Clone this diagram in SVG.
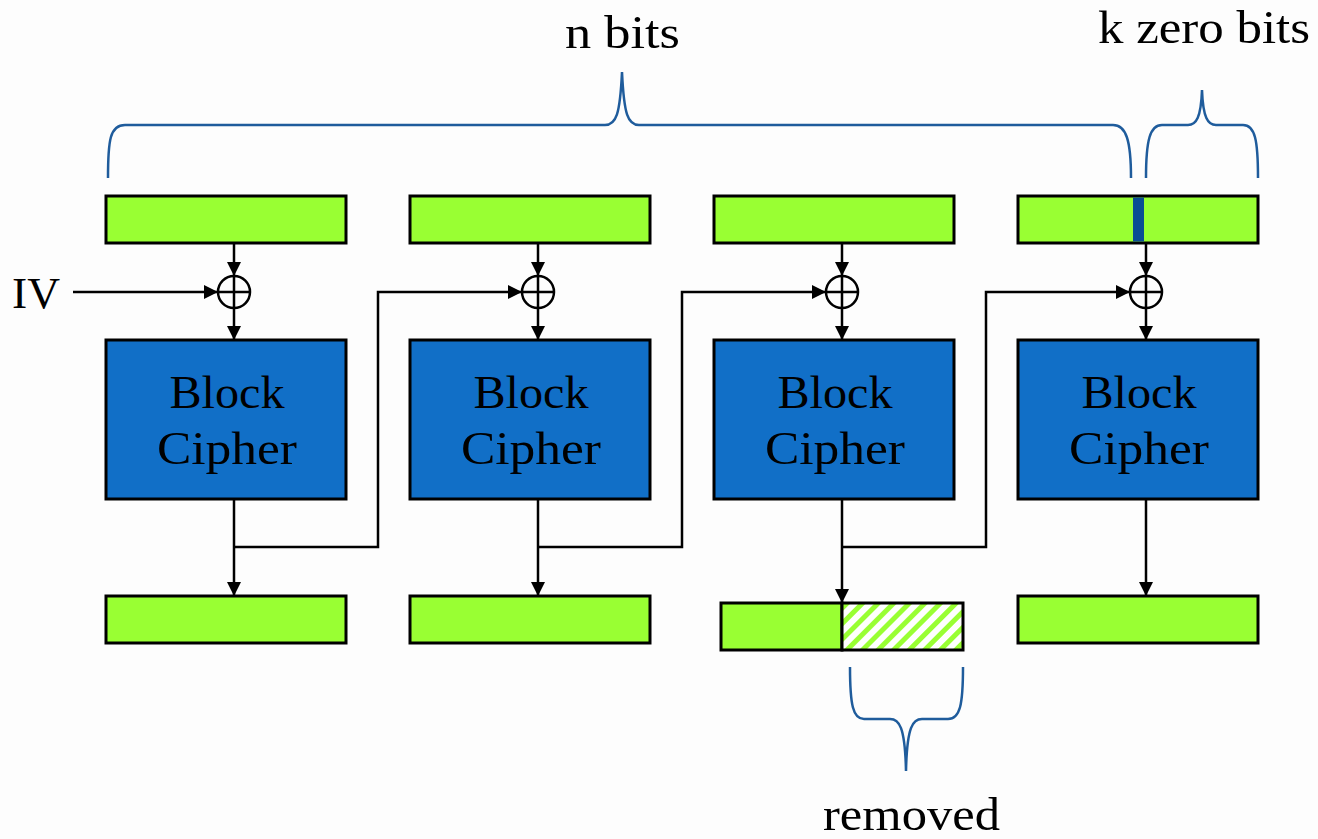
<svg xmlns="http://www.w3.org/2000/svg" width="1318" height="839" viewBox="0 0 1318 839">
<defs>
<style>
.g{fill:#99FF33;stroke:#000;stroke-width:3}
.c{fill:#116FC7;stroke:#000;stroke-width:3}
.t{font-family:"Liberation Serif",serif;fill:#000}
.bt{font-family:"Liberation Serif",serif;font-size:46px;fill:#000;text-anchor:middle}
.ln{fill:none;stroke:#000;stroke-width:2.5}
.br{fill:none;stroke:#1F5C9C;stroke-width:2.5}
.x{fill:none;stroke:#000;stroke-width:2.5}
</style>
<marker id="ah" viewBox="0 0 10 10" refX="10" refY="5" markerWidth="14" markerHeight="14" markerUnits="userSpaceOnUse" orient="auto">
<path d="M0,0 L10,5 L0,10 z" fill="#000"/>
</marker>
<pattern id="hatch" patternUnits="userSpaceOnUse" width="11" height="11" patternTransform="rotate(45)">
<rect width="11" height="11" fill="#fff"/>
<rect width="5" height="11" fill="#99FF33"/>
</pattern>
</defs>
<rect width="1318" height="839" fill="#FDFDFD"/>

<g id="braces">
<path class="br" d="M108,178 C108,140 110,125 125,125 L605,125 C616,125 620,115 622,72 C624,115 628,125 639,125 L1113,125 C1126,125 1131,140 1131,178"/>
<path class="br" d="M1146,178 C1146,140 1150,125 1162,125 L1188,125 C1196,125 1201,118 1202,90 C1203,118 1208,125 1216,125 L1243,125 C1255,125 1258,140 1258,178"/>
<path class="br" d="M850,667 C850,705 853,719 864,719 L890,719 C899,719 905,726 906,771 C907,726 913,719 922,719 L948,719 C960,719 963,705 963,667"/>
</g>

<g id="labels">
<text class="t" x="565" y="48" font-size="46" textLength="115" lengthAdjust="spacingAndGlyphs">n bits</text>
<text class="t" x="1098" y="43" font-size="46" textLength="212" lengthAdjust="spacingAndGlyphs">k zero bits</text>
<text class="t" x="823" y="830" font-size="46" textLength="177" lengthAdjust="spacingAndGlyphs">removed</text>
<text class="t" x="12" y="308" font-size="44" textLength="48" lengthAdjust="spacingAndGlyphs">IV</text>
</g>

<g id="connectors">
<line class="ln" x1="73" y1="292" x2="218" y2="292" marker-end="url(#ah)"/>
<line class="ln" x1="234" y1="243" x2="234" y2="276" marker-end="url(#ah)"/>
<line class="ln" x1="234" y1="308" x2="234" y2="340" marker-end="url(#ah)"/>
<line class="ln" x1="234" y1="499" x2="234" y2="596" marker-end="url(#ah)"/>
<polyline class="ln" points="234,547 378,547 378,292 522,292" marker-end="url(#ah)"/>

<line class="ln" x1="538" y1="243" x2="538" y2="276" marker-end="url(#ah)"/>
<line class="ln" x1="538" y1="308" x2="538" y2="340" marker-end="url(#ah)"/>
<line class="ln" x1="538" y1="499" x2="538" y2="596" marker-end="url(#ah)"/>
<polyline class="ln" points="538,547 682,547 682,292 826,292" marker-end="url(#ah)"/>

<line class="ln" x1="842" y1="243" x2="842" y2="276" marker-end="url(#ah)"/>
<line class="ln" x1="842" y1="308" x2="842" y2="340" marker-end="url(#ah)"/>
<line class="ln" x1="842" y1="499" x2="842" y2="603" marker-end="url(#ah)"/>
<polyline class="ln" points="842,547 986,547 986,292 1130,292" marker-end="url(#ah)"/>

<line class="ln" x1="1146" y1="243" x2="1146" y2="276" marker-end="url(#ah)"/>
<line class="ln" x1="1146" y1="308" x2="1146" y2="340" marker-end="url(#ah)"/>
<line class="ln" x1="1146" y1="499" x2="1146" y2="596" marker-end="url(#ah)"/>
</g>

<g id="xor1"><circle class="x" cx="234" cy="292" r="16"/><path class="x" d="M218,292 H250 M234,276 V308"/></g>
<g id="xor2"><circle class="x" cx="538" cy="292" r="16"/><path class="x" d="M522,292 H554 M538,276 V308"/></g>
<g id="xor3"><circle class="x" cx="842" cy="292" r="16"/><path class="x" d="M826,292 H858 M842,276 V308"/></g>
<g id="xor4"><circle class="x" cx="1146" cy="292" r="16"/><path class="x" d="M1130,292 H1162 M1146,276 V308"/></g>

<g id="in1"><rect class="g" x="106" y="196" width="240" height="47"/></g>
<g id="in2"><rect class="g" x="410" y="196" width="240" height="47"/></g>
<g id="in3"><rect class="g" x="714" y="196" width="240" height="47"/></g>
<g id="in4"><rect class="g" x="1018" y="196" width="240" height="47"/><rect x="1133" y="197.5" width="11" height="44" fill="#0A4D94"/></g>

<g id="bc1"><rect class="c" x="106" y="340" width="240" height="159"/><text class="bt" x="227" y="408" textLength="115" lengthAdjust="spacingAndGlyphs">Block</text><text class="bt" x="227" y="464" textLength="140" lengthAdjust="spacingAndGlyphs">Cipher</text></g>
<g id="bc2"><rect class="c" x="410" y="340" width="240" height="159"/><text class="bt" x="531" y="408" textLength="115" lengthAdjust="spacingAndGlyphs">Block</text><text class="bt" x="531" y="464" textLength="140" lengthAdjust="spacingAndGlyphs">Cipher</text></g>
<g id="bc3"><rect class="c" x="714" y="340" width="240" height="159"/><text class="bt" x="835" y="408" textLength="115" lengthAdjust="spacingAndGlyphs">Block</text><text class="bt" x="835" y="464" textLength="140" lengthAdjust="spacingAndGlyphs">Cipher</text></g>
<g id="bc4"><rect class="c" x="1018" y="340" width="240" height="159"/><text class="bt" x="1139" y="408" textLength="115" lengthAdjust="spacingAndGlyphs">Block</text><text class="bt" x="1139" y="464" textLength="140" lengthAdjust="spacingAndGlyphs">Cipher</text></g>

<g id="out1"><rect class="g" x="106" y="596" width="240" height="47"/></g>
<g id="out2"><rect class="g" x="410" y="596" width="240" height="47"/></g>
<g id="out3"><rect class="g" x="721" y="603" width="121" height="47"/><rect x="842" y="603" width="121" height="47" fill="url(#hatch)" stroke="#000" stroke-width="3"/></g>
<g id="out4"><rect class="g" x="1018" y="596" width="240" height="47"/></g>
</svg>
